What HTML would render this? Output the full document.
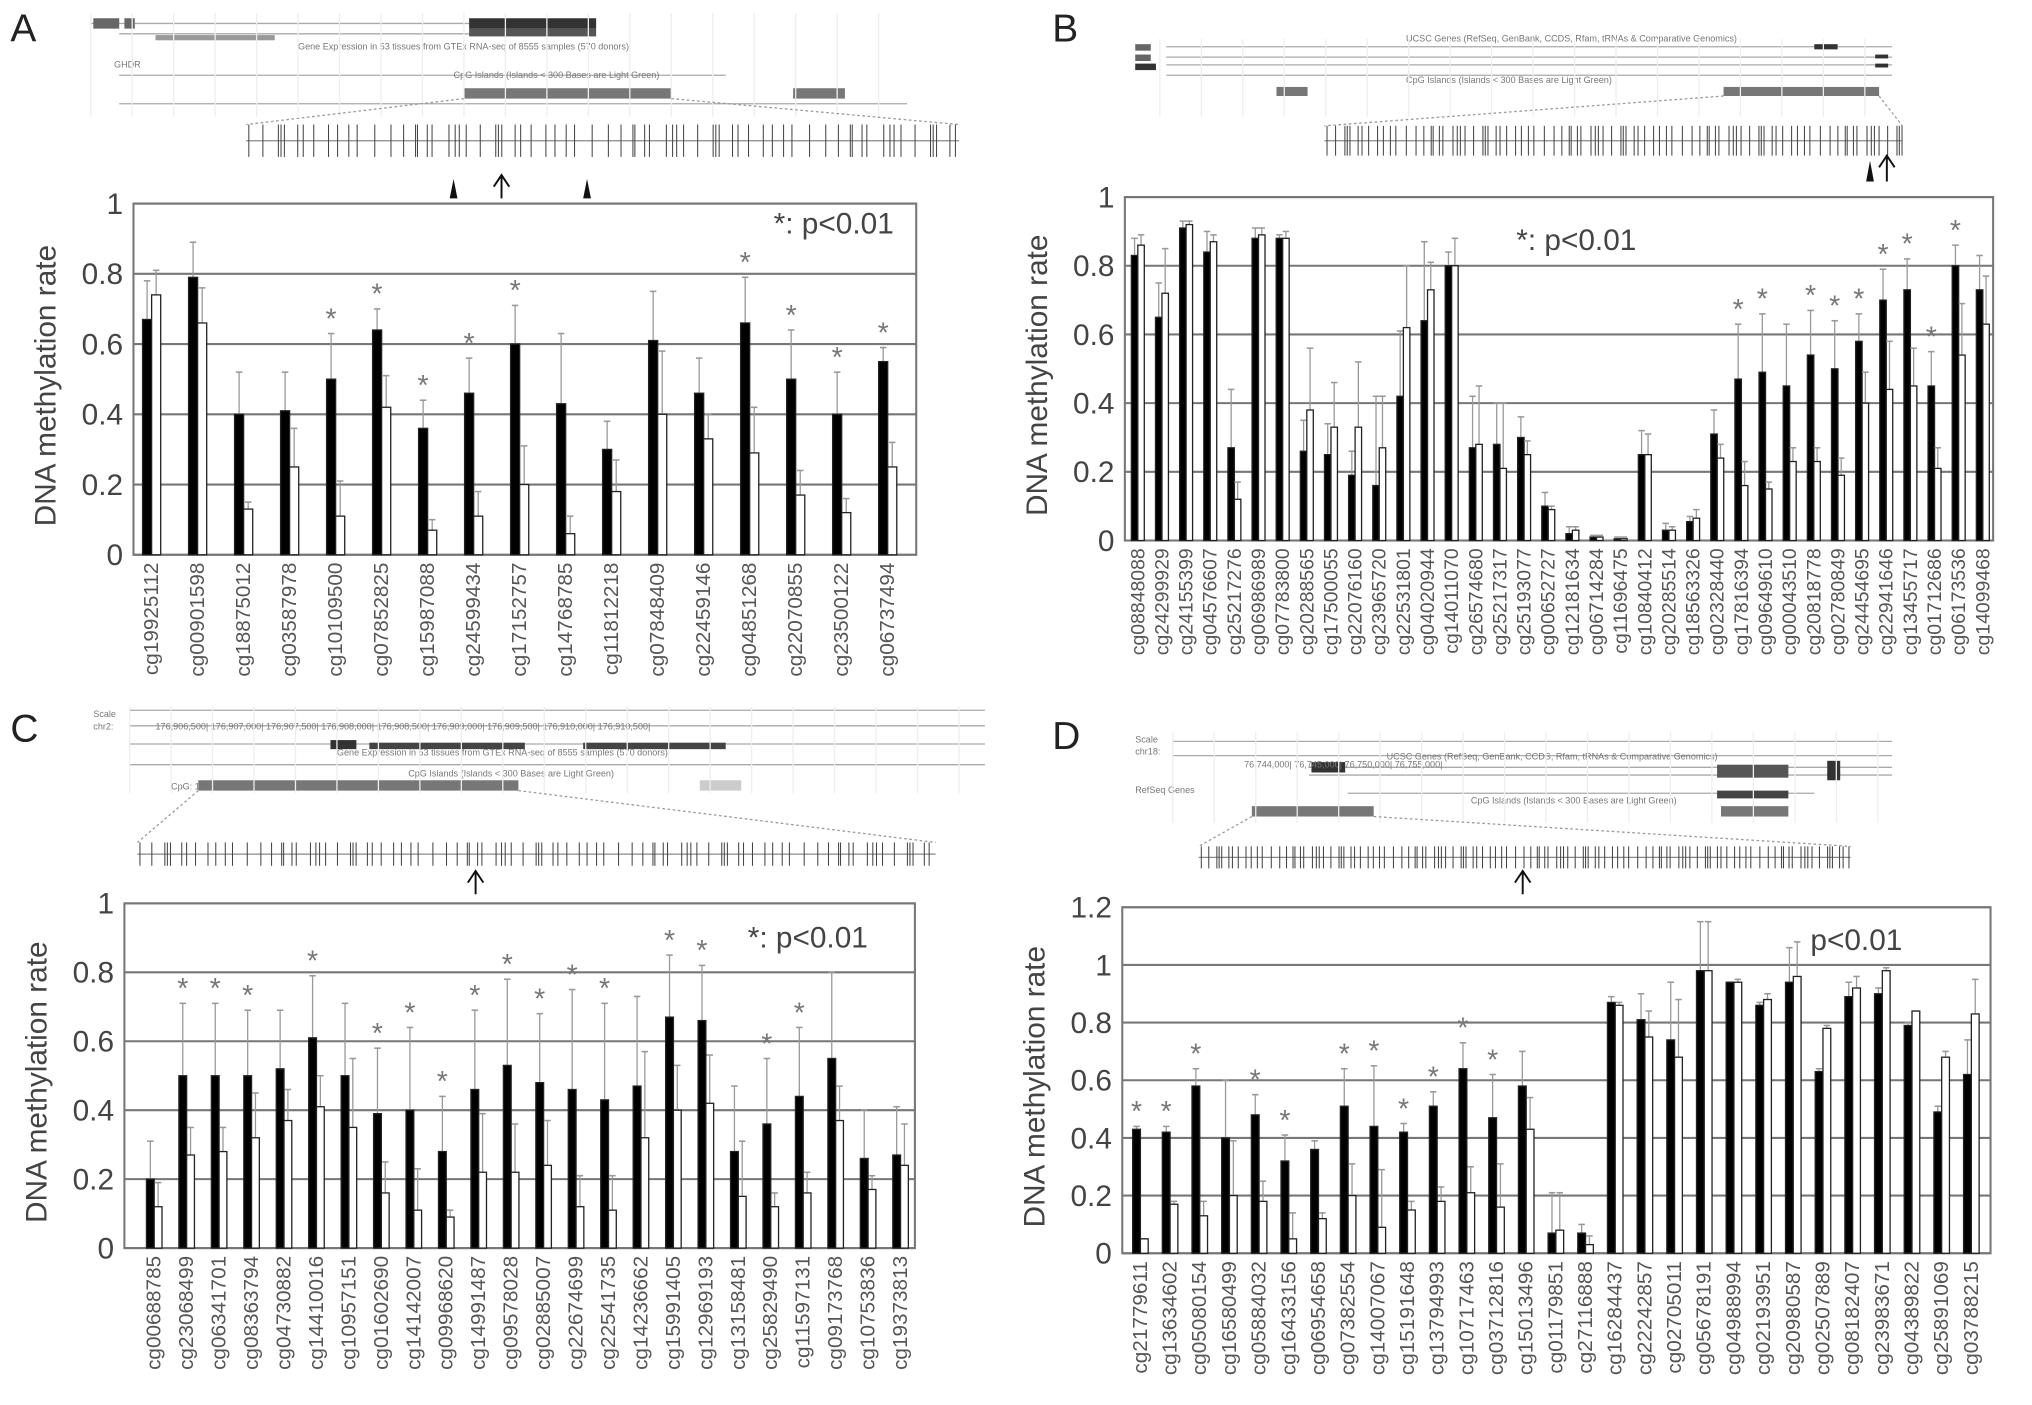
<!DOCTYPE html>
<html><head><meta charset="utf-8"><style>
html,body{margin:0;padding:0;background:#fff;}
svg{display:block;font-family:"Liberation Sans",sans-serif;}
</style></head><body>
<svg id="fig" width="2032" height="1405" viewBox="0 0 1568 1084" xmlns="http://www.w3.org/2000/svg"></svg>
<script>
// ---- Panel A data ----
const catsA=["cg19925112","cg00901598","cg18875012","cg03587978","cg10109500","cg07852825","cg15987088","cg24599434","cg17152757","cg14768785","cg11812218","cg07848409","cg22459146","cg04851268","cg22070855","cg23500122","cg06737494"];
const blackA=[.67,.79,.40,.41,.50,.64,.36,.46,.60,.43,.30,.61,.46,.66,.50,.40,.55];
const whiteA=[.74,.66,.13,.25,.11,.42,.07,.11,.20,.06,.18,.40,.33,.29,.17,.12,.25];
const blackErrA=[.78,.89,.52,.52,.63,.70,.44,.56,.71,.63,.38,.75,.56,.79,.64,.52,.59];
const whiteErrA=[.81,.76,.15,.36,.21,.51,.10,.18,.31,.11,.27,.58,.40,.42,.24,.16,.32];
const starsA=[4,5,6,7,8,13,14,15,16];
const ticksA=[0,0.2,0.4,0.6,0.8,1];
// ---- Panel B data ----
const catsB=["cg08848088","cg24299929","cg24155399","cg04576607","cg25217276","cg06986989","cg07783800","cg20288565","cg17500055","cg22076160","cg23965720","cg22531801","cg04020944","cg14011070","cg26574680","cg25217317","cg25193077","cg00652727","cg12181634","cg06714284","cg11696475","cg10840412","cg20285514","cg18563326","cg02328440","cg17816394","cg09649610","cg00043510","cg20818778","cg02780849","cg24454695","cg22941646","cg13455717","cg01712686","cg06173536","cg14099468"];
const blackB=[.83,.65,.91,.84,.27,.88,.88,.26,.25,.19,.16,.42,.64,.80,.27,.28,.30,.10,.02,.01,.005,.25,.03,.055,.31,.47,.49,.45,.54,.50,.58,.70,.73,.45,.80,.73];
const whiteB=[.86,.72,.92,.87,.12,.89,.88,.38,.33,.33,.27,.62,.73,.80,.28,.21,.25,.09,.03,.01,.005,.25,.03,.065,.24,.16,.15,.23,.23,.19,.40,.44,.45,.21,.54,.63];
const blackErrB=[.88,.75,.93,.90,.44,.91,.89,.35,.34,.26,.42,.61,.87,.84,.42,.40,.36,.14,.04,.015,.01,.32,.05,.07,.38,.63,.66,.63,.67,.64,.66,.79,.82,.55,.86,.83];
const whiteErrB=[.89,.85,.93,.89,.17,.91,.90,.56,.46,.52,.42,.80,.81,.88,.45,.40,.29,.10,.04,.015,.01,.31,.04,.09,.28,.23,.17,.27,.27,.24,.49,.58,.56,.27,.69,.77];
const starsB=[25,26,28,29,30,31,32,33,34];
const ticksB=[0,0.2,0.4,0.6,0.8,1];
// ---- Panel C data ----
const catsC=["cg00688785","cg23068499","cg06341701","cg08363794","cg04730882","cg14410016","cg10957151","cg01602690","cg14142007","cg09968620","cg14991487","cg09578028","cg02885007","cg22674699","cg22541735","cg14236662","cg15991405","cg12969193","cg13158481","cg25829490","cg11597131","cg09173768","cg10753836","cg19373813"];
const blackC=[.20,.50,.50,.50,.52,.61,.50,.39,.40,.28,.46,.53,.48,.46,.43,.47,.67,.66,.28,.36,.44,.55,.26,.27];
const whiteC=[.12,.27,.28,.32,.37,.41,.35,.16,.11,.09,.22,.22,.24,.12,.11,.32,.40,.42,.15,.12,.16,.37,.17,.24];
const blackErrC=[.31,.71,.71,.69,.69,.79,.71,.58,.64,.44,.69,.78,.68,.75,.71,.73,.85,.82,.47,.55,.64,.80,.40,.41];
const whiteErrC=[.19,.35,.35,.45,.46,.50,.55,.25,.23,.11,.39,.36,.37,.21,.21,.57,.53,.56,.31,.16,.22,.47,.21,.36];
const starsC=[1,2,3,5,7,8,9,10,11,12,13,14,16,17,19,20];
const ticksC=[0,0.2,0.4,0.6,0.8,1];
// ---- Panel D data ----
const catsD=["cg21779611","cg13634602","cg05080154","cg16580499","cg05884032","cg16433156","cg06954658","cg07382554","cg14007067","cg15191648","cg13794993","cg10717463","cg03712816","cg15013496","cg01179851","cg27116888","cg16284437","cg22242857","cg02705011","cg05678191","cg04988994","cg02193951","cg20980587","cg02507889","cg08182407","cg23983671","cg04389822","cg25891069","cg03788215"];
const blackD=[.43,.42,.58,.40,.48,.32,.36,.51,.44,.42,.51,.64,.47,.58,.07,.07,.87,.81,.74,.98,.94,.86,.94,.63,.89,.90,.79,.49,.62];
const whiteD=[.05,.17,.13,.20,.18,.05,.12,.20,.09,.15,.18,.21,.16,.43,.08,.03,.86,.75,.68,.98,.94,.88,.96,.78,.92,.98,.84,.68,.83];
const blackErrD=[.44,.44,.64,.60,.55,.41,.39,.64,.65,.45,.56,.73,.62,.70,.21,.10,.89,.90,.94,1.15,.94,.87,1.06,.64,.94,.92,.80,.51,.74];
const whiteErrD=[.05,.18,.18,.39,.25,.14,.14,.31,.29,.18,.23,.30,.31,.54,.21,.06,.87,.84,.88,1.15,.95,.90,1.08,.79,.96,.99,.84,.70,.95];
const starsD=[0,1,2,4,5,7,8,9,10,11,12];
const ticksD=[0,0.2,0.4,0.6,0.8,1,1.2];

const NS="http://www.w3.org/2000/svg";
const svg=document.getElementById('fig');
function mk(tag,attrs,parent,text){const e=document.createElementNS(NS,tag);for(const k in attrs)e.setAttribute(k,attrs[k]);if(text!==undefined)e.textContent=text;(parent||svg).appendChild(e);return e;}

function drawPanel(p){
  const g=mk('g',{});
  
  
  const y=v=>p.y0-(v/p.ymax)*(p.y0-p.y1);
  p.ticks.forEach(t=>{
    const ln=mk('line',{x1:p.x0,x2:p.x1,y1:y(t),y2:y(t),stroke:'#777','stroke-width':1.6},g);
    
    
    const tl=mk('text',{x:p.x0-8,y:y(t)+8,'text-anchor':'end','font-size':23,fill:'#444'},g,String(t));
    
    
  });
  const box=mk('rect',{x:p.x0,y:y(p.ymax),width:p.x1-p.x0,height:p.y0-y(p.ymax),fill:'none',stroke:'#777','stroke-width':1.6},g);
  
  
  const yt=mk('text',{x:0,y:0,transform:`translate(${p.x0-60},${(p.y0+y(p.ymax))/2+5}) rotate(-90)`,'text-anchor':'middle','font-size':23,fill:'#444'},g,'DNA methylation rate');
  
  
  const pv=mk('text',{x:p.pvx,y:p.pvy,'font-size':23,fill:'#444'},g,p.pvText);
  
  
  p.cats.forEach((c,i)=>{
    const cx=p.first+i*p.step, bw=p.bw;
    [[p.black[i],p.berr[i],cx-bw,'#000','black'],[p.white[i],p.werr[i],cx,'#fff','white']].forEach(([v,e,bx,fill,nm])=>{
      const ex=bx+bw/2;
      const el=mk('line',{x1:ex,x2:ex,y1:y(v),y2:y(e),stroke:'#999','stroke-width':1},g);
      
      
      const cap=mk('line',{x1:ex-2.5,x2:ex+2.5,y1:y(e),y2:y(e),stroke:'#999','stroke-width':1.2},g);
      
      
      const r=mk('rect',{x:bx,y:y(v),width:bw,height:p.y0-y(v),fill:fill,stroke:'#222','stroke-width':1},g);
      
      
    });
    if(p.stars.includes(i)){
      const st=mk('text',{x:cx-bw/2,y:y(p.berr[i])-4,'text-anchor':'middle','font-size':22,fill:'#777'},g,'*');
      
      
    }
    const lb=mk('text',{x:0,y:0,transform:`translate(${cx+5},${p.y0+6}) rotate(-90)`,'text-anchor':'end','font-size':p.lfs,fill:'#555'},g,c);
    
    
  });
  const L=mk('text',{x:p.lx,y:p.ly,'font-size':30,fill:'#222'},g,p.id);
  
  
}

drawPanel({id:'A',cats:catsA,black:blackA,white:whiteA,berr:blackErrA,werr:whiteErrA,stars:starsA,ticks:ticksA,ymax:1,
  x0:103,x1:707,y0:428,y1:157,first:117,step:35.5,bw:7,lfs:16,pvx:597,pvy:180,pvText:'*: p<0.01',lx:8,ly:32});
drawPanel({id:'B',cats:catsB,black:blackB,white:whiteB,berr:blackErrB,werr:whiteErrB,stars:starsB,ticks:ticksB,ymax:1,
  x0:868,x1:1538,y0:417,y1:152,first:878,step:18.63,bw:5,lfs:15,pvx:1170,pvy:193,pvText:'*: p<0.01',lx:812,ly:32});
drawPanel({id:'C',cats:catsC,black:blackC,white:whiteC,berr:blackErrC,werr:whiteErrC,stars:starsC,ticks:ticksC,ymax:1,
  x0:96,x1:706,y0:963,y1:697,first:119,step:25.04,bw:6,lfs:16,pvx:577,pvy:731,pvText:'*: p<0.01',lx:8,ly:572});
drawPanel({id:'D',cats:catsD,black:blackD,white:whiteD,berr:blackErrD,werr:whiteErrD,stars:starsD,ticks:ticksD,ymax:1.2,
  x0:866,x1:1536,y0:967,y1:700,first:880,step:22.9,bw:6,lfs:16,pvx:1397,pvy:733,pvText:'p<0.01',lx:812,ly:578});

function track(t){
  const g=mk('g',{});
  
  
  t.lines.forEach(l=>{mk('line',{x1:l[0],x2:l[1],y1:l[2],y2:l[2],stroke:'#aaa','stroke-width':1},g);});
  t.rects.forEach(r=>{mk('rect',{x:r[0],y:r[1],width:r[2],height:r[3],fill:r[4]},g);});
  t.texts.forEach(s=>{mk('text',{x:s[0],y:s[1],'font-size':7,fill:'#777'},g,s[2]);});
  for(let x=t.gx0;x<t.gx1;x+=32){mk('line',{x1:x,x2:x,y1:t.gy0,y2:t.gy1,stroke:'#eee','stroke-width':1},g);}
  mk('line',{x1:t.z[0],y1:t.z[1],x2:t.tk[0],y2:t.tk[2],stroke:'#999','stroke-dasharray':'2,2'},g);
  mk('line',{x1:t.z[2],y1:t.z[1],x2:t.tk[1],y2:t.tk[2],stroke:'#999','stroke-dasharray':'2,2'},g);
  mk('line',{x1:t.tk[0],x2:t.tk[1],y1:(t.tk[2]+t.tk[3])/2,y2:(t.tk[2]+t.tk[3])/2,stroke:'#888'},g);
  let s=7;
  for(let x=t.tk[0]+2;x<t.tk[1];){mk('line',{x1:x,x2:x,y1:t.tk[2],y2:t.tk[3],stroke:'#444','stroke-width':0.8},g);s=(s*37+11)%23;x+=1.5+s*t.dens;}
  t.arrows.forEach(a=>{
    const ar=mk('path',{d:`M${a[0]},${a[2]} L${a[0]},${a[1]} M${a[0]-6},${a[1]+9} L${a[0]},${a[1]} L${a[0]+6},${a[1]+9}`,stroke:'#111','stroke-width':1.5,fill:'none'},g);
    
    
  });
  t.tris.forEach(a=>{mk('path',{d:`M${a[0]-3},${a[2]} L${a[0]},${a[1]} L${a[0]+3},${a[2]} Z`,fill:'#111'},g);});
}
track({id:'A',gx0:70,gx1:710,gy0:10,gy1:90,
  lines:[[70,460,18],[92,460,26],[92,560,58],[92,700,80]],
  rects:[[72,14,20,8,'#666'],[96,14,8,8,'#666'],[362,14,98,8,'#333'],[362,22,98,6,'#555'],[120,27,92,4,'#999'],[358,68,160,8,'#777'],[612,68,40,8,'#777']],
  texts:[[230,38,'Gene Expression in 53 tissues from GTEx RNA-seq of 8555 samples (570 donors)'],[350,60,'CpG Islands (Islands < 300 Bases are Light Green)'],[88,52,'GHDR']],
  z:[358,76,518],tk:[190,740,96,121],dens:0.55,arrows:[[387,135,153]],tris:[[350,138,153],[453,138,153]]});
track({id:'B',gx0:895,gx1:1465,gy0:30,gy1:90,
  lines:[[900,1460,36],[900,1460,44],[900,1460,50],[900,1460,58]],
  rects:[[876,34,12,5,'#666'],[876,42,12,5,'#666'],[876,49,16,5,'#333'],[1400,34,18,4,'#333'],[1447,42,10,3,'#333'],[1447,49,10,3,'#333'],[985,67,24,7,'#777'],[1330,67,120,7,'#777']],
  texts:[[1085,32,'UCSC Genes (RefSeq, GenBank, CCDS, Rfam, tRNAs & Comparative Genomics)'],[1085,64,'CpG Islands (Islands < 300 Bases are Light Green)']],
  z:[1330,74,1450],tk:[1022,1468,97,120],dens:0.3,arrows:[[1456,120,140]],tris:[[1443,124,140]]});
track({id:'C',gx0:100,gx1:765,gy0:545,gy1:612,
  lines:[[100,760,548],[100,760,560],[100,760,574],[100,760,590]],
  rects:[[255,571,20,7,'#333'],[285,573,120,5,'#444'],[450,573,110,5,'#444'],[153,602,247,8,'#777'],[540,602,32,8,'#ccc']],
  texts:[[72,553,'Scale'],[72,563,'chr2:'],[120,563,'176,906,500|      176,907,000|      176,907,500|      176,908,000|      176,908,500|      176,909,000|      176,909,500|      176,910,000|      176,910,500|'],[260,583,'Gene Expression in 53 tissues from GTEx RNA-seq of 8555 samples (570 donors)'],[315,599,'CpG Islands (Islands < 300 Bases are Light Green)'],[132,609,'CpG: 172']],
  z:[153,610,400],tk:[106,722,650,668],dens:0.45,arrows:[[367,672,690]],tris:[]});
track({id:'D',gx0:905,gx1:1460,gy0:565,gy1:635,
  lines:[[905,1460,572],[905,1460,583],[1010,1460,592],[1040,1400,612],[1010,1460,598]],
  rects:[[1012,588,26,8,'#333'],[1325,590,55,10,'#555'],[1410,587,10,10,'#333'],[1410,596,10,6,'#333'],[1325,610,55,6,'#444'],[966,622,94,8,'#777'],[1328,622,52,8,'#777']],
  texts:[[876,573,'Scale'],[876,582,'chr18:'],[960,592,'76,744,000|    76,745,000|    76,750,000|    76,755,000|'],[1070,586,'UCSC Genes (RefSeq, GenBank, CCDS, Rfam, tRNAs & Comparative Genomics)'],[876,612,'RefSeq Genes'],[1135,620,'CpG Islands (Islands < 300 Bases are Light Green)']],
  z:[966,630,1060],tk:[925,1428,653,670],dens:0.25,arrows:[[1175,672,690]],tris:[]});
</script>
</body></html>
